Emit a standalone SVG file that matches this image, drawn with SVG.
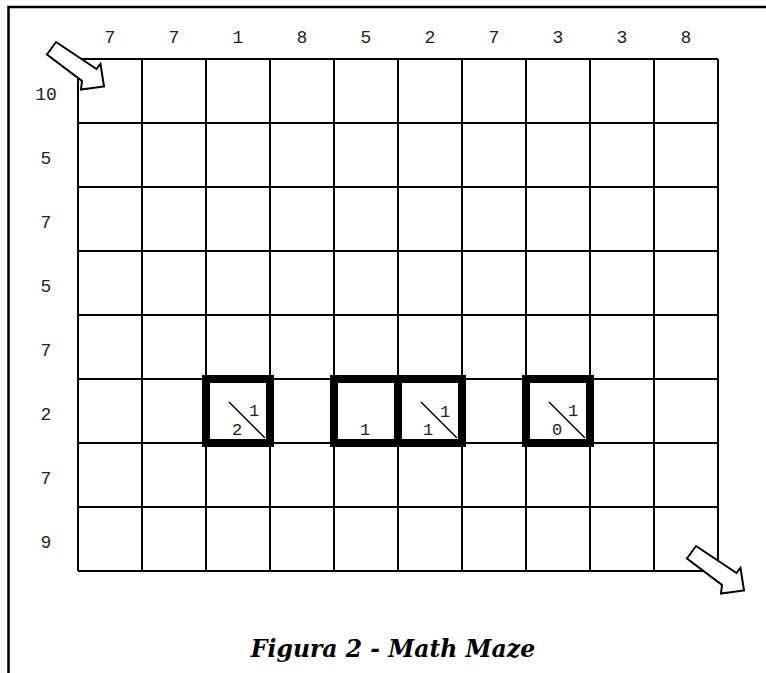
<svg xmlns="http://www.w3.org/2000/svg" width="766" height="673" viewBox="0 0 766 673">
<style>
.grid{stroke:#000;stroke-width:2;fill:none}
.frame{stroke:#000;stroke-width:2.5;fill:none}
.thick{stroke:#000;stroke-width:8;fill:none}
.diag{stroke:#000;stroke-width:1.5}
.num{font-family:"Liberation Mono","DejaVu Sans Mono",monospace;font-size:18px;fill:#222;text-anchor:middle}
.cn{font-family:"Liberation Mono","DejaVu Sans Mono",monospace;font-size:17px;fill:#222;text-anchor:middle}
.arrow{fill:#fff;stroke:#000;stroke-width:2;stroke-linejoin:miter}
.cap{font-family:"DejaVu Serif",serif;font-weight:bold;font-style:italic;font-size:23.5px;fill:#000;text-anchor:middle}
</style>
<rect width="766" height="673" fill="#fff"/>
<g id="frame"><path class="frame" d="M8.5,673 V7 H766"/></g>
<g id="grid" class="grid">
<path d="M78,59 H718 M78,123 H718 M78,187 H718 M78,251 H718 M78,315 H718 M78,379 H718 M78,443 H718 M78,507 H718 M78,571 H718"/>
<path d="M78,59 V571 M142,59 V571 M206,59 V571 M270,59 V571 M334,59 V571 M398,59 V571 M462,59 V571 M526,59 V571 M590,59 V571 M654,59 V571 M718,59 V571"/>
</g>
<g id="col-headers">
<text class="num" x="110" y="43">7</text>
<text class="num" x="174" y="43">7</text>
<text class="num" x="238" y="43">1</text>
<text class="num" x="302" y="43">8</text>
<text class="num" x="366" y="43">5</text>
<text class="num" x="430" y="43">2</text>
<text class="num" x="494" y="43">7</text>
<text class="num" x="558" y="43">3</text>
<text class="num" x="622" y="43">3</text>
<text class="num" x="686" y="43">8</text>
</g>
<g id="row-headers">
<text class="num" x="46" y="99.5">10</text>
<text class="num" x="46" y="163.5">5</text>
<text class="num" x="46" y="227.5">7</text>
<text class="num" x="46" y="291.5">5</text>
<text class="num" x="46" y="355.5">7</text>
<text class="num" x="46" y="419.5">2</text>
<text class="num" x="46" y="483.5">7</text>
<text class="num" x="46" y="547.5">9</text>
</g>
<g id="cell-r5-c2">
<rect class="thick" x="206" y="379" width="64" height="64"/>
<line class="diag" x1="229" y1="402" x2="265" y2="438"/>
<text class="cn" x="254" y="416">1</text>
<text class="cn" x="237" y="435">2</text>
</g>
<g id="cell-r5-c4">
<rect class="thick" x="334" y="379" width="64" height="64"/>
<text class="cn" x="365" y="435">1</text>
</g>
<g id="cell-r5-c5">
<rect class="thick" x="398" y="379" width="64" height="64"/>
<line class="diag" x1="421" y1="402" x2="457" y2="438"/>
<text class="cn" x="445" y="417">1</text>
<text class="cn" x="428" y="435">1</text>
</g>
<g id="cell-r5-c7">
<rect class="thick" x="526" y="379" width="64" height="64"/>
<line class="diag" x1="549" y1="402" x2="585" y2="438"/>
<text class="cn" x="573" y="416">1</text>
<text class="cn" x="557" y="435">0</text>
</g>
<g id="arrow-start">
<polygon class="arrow" points="56,42 96.5,69 100.5,64 104,86.5 81,89.5 82,81 47,54.5"/>
</g>
<g id="arrow-end">
<polygon class="arrow" points="56,42 96.5,69 100.5,64 104,86.5 81,89.5 82,81 47,54.5" transform="translate(640,504)"/>
</g>
<g id="caption">
<text class="cap" x="393" y="657">Figura 2 - Math Maze</text>
</g>
</svg>
